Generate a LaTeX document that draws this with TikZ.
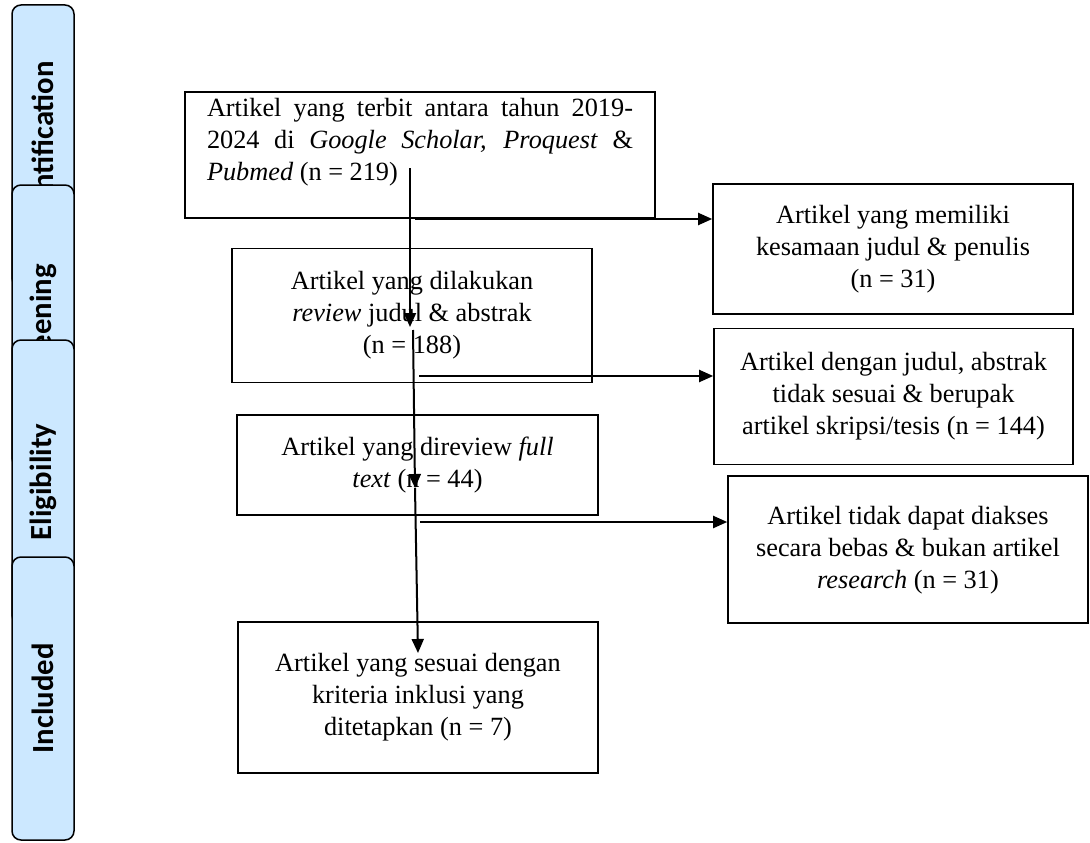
\documentclass[tikz,border=0pt]{standalone}
\usepackage{fontspec}
\setmainfont{Liberation Serif}
\newfontfamily\phasefont{Carlito}
\usetikzlibrary{arrows.meta,positioning}
\definecolor{phasefill}{HTML}{CCE8FF}
\tikzset{
  box/.style={draw,line width=1.6pt,align=center,inner sep=0pt,font=\fontsize{26.3}{32}\selectfont},
  phase/.style={draw,line width=1.5pt,rounded corners=9pt,fill=phasefill,rotate=90,minimum width=282pt,minimum height=62pt,inner sep=0pt,font=\phasefont\bfseries\fontsize{30.7}{36}\selectfont},
  ar/.style={-{Triangle[length=14pt,width=12pt]},line width=2pt},
}
\begin{document}
\begin{tikzpicture}[x=1pt,y=-1pt]
\useasboundingbox (0,0) rectangle (1090,843);
% phase tabs, each drawn over the one before
\node[phase] (pid) at (43,146) {Identification};
\node[phase] (pscr) at (43,326) {Screening};
\node[phase,minimum width=284pt] (pelig) at (43,482) {Eligibility};
\node[phase,minimum width=283pt] (pinc) at (43,698.5) {Included};
% main column
\node[box,minimum width=470pt,minimum height=126pt,text width=426pt,align=justify,text height=25pt,text depth=101pt] (ident) at (420,155) {Artikel yang terbit antara tahun 2019-\linebreak 2024 di \textit{Google Scholar, Proquest} \&\linebreak \textit{Pubmed} (n = 219)};
\node[box,minimum width=360pt,minimum height=134pt,below=29pt of ident,xshift=-8pt] (screen) {Artikel yang dilakukan\\\textit{review} judul \& abstrak\\(n = 188)};
\node[box,minimum width=361pt,minimum height=100pt,below=31pt of screen,xshift=5.5pt] (elig) {Artikel yang direview \textit{full}\\\textit{text} (n = 44)};
\node[box,minimum width=360pt,minimum height=151pt,below=105pt of elig,xshift=0.5pt] (incl) {Artikel yang sesuai dengan\\kriteria inklusi yang\\ditetapkan (n = 7)};
% excluded column
\node[box,minimum width=360pt,minimum height=130pt] (dup) at (893,249) {Artikel yang memiliki\\kesamaan judul \& penulis\\(n = 31)};
\node[box,minimum width=359pt,minimum height=136pt,below=13pt of dup,xshift=0.5pt] (excl) {Artikel dengan judul, abstrak\\tidak sesuai \& berupak\\artikel skripsi/tesis (n = 144)};
\node[box,minimum width=360pt,minimum height=147pt,below=10pt of excl,xshift=14.5pt] (inacc) {Artikel tidak dapat diakses\\secara bebas \& bukan artikel\\\textit{research} (n = 31)};
% arrows
\coordinate (v0) at (410,168);
\coordinate (v1) at (410,327);
\coordinate (v2) at (413,330);
\coordinate (v3) at (415,488);
\coordinate (v4) at (418,653);
\coordinate (h1) at (415,219);
\coordinate (h2) at (419,376);
\coordinate (h3) at (420,522);
\draw[ar] (v0) -- (v1);
\draw[ar] (v2) -- (v3);
\draw[ar] (v3) -- (v4);
\draw[ar] (h1) -- (h1 -| dup.west);
\draw[ar] (h2) -- (h2 -| excl.west);
\draw[ar] (h3) -- (h3 -| inacc.west);
\end{tikzpicture}
\end{document}
